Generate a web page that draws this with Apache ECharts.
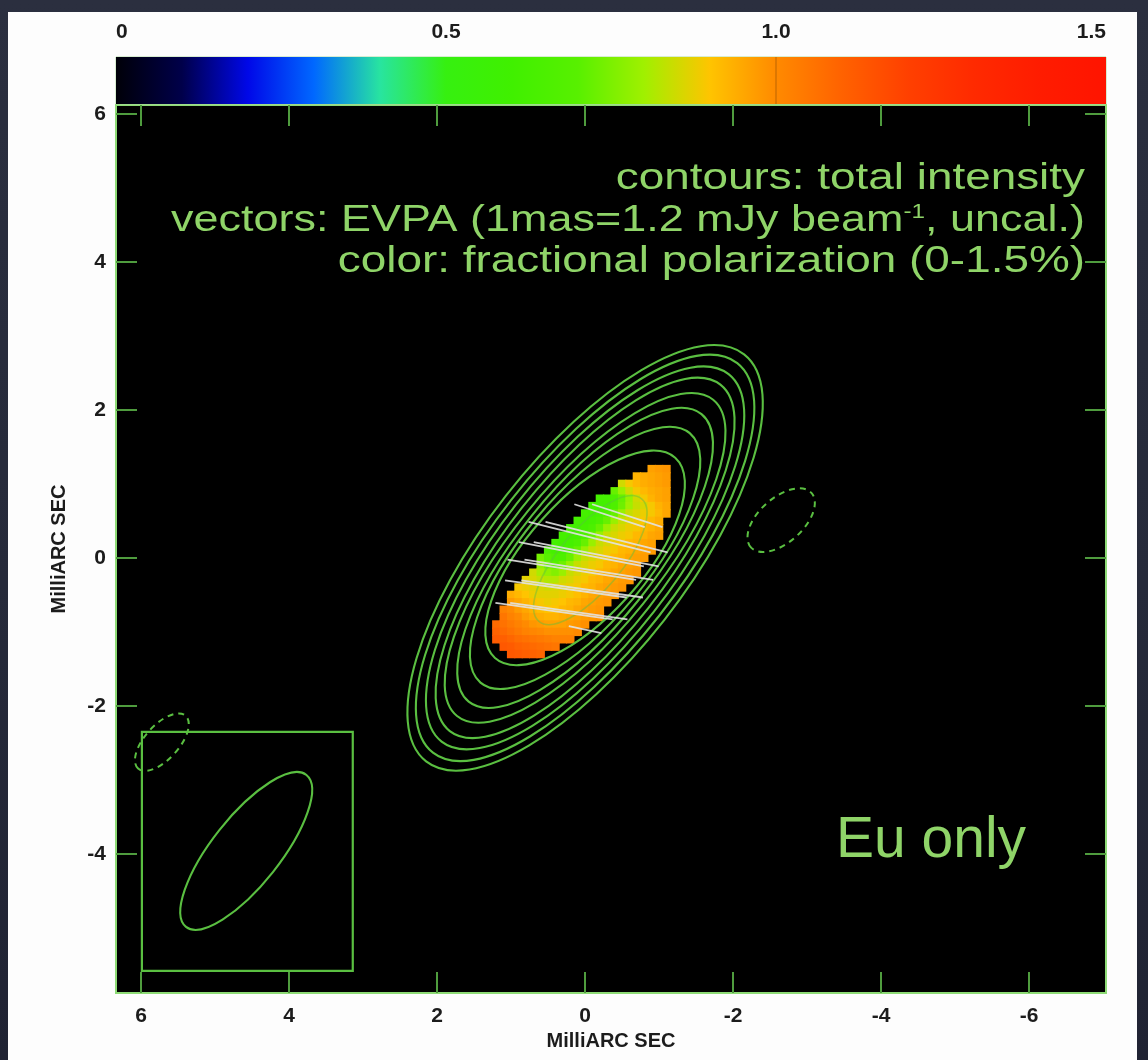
<!DOCTYPE html>
<html><head><meta charset="utf-8">
<script src="https://cdn.jsdelivr.net/npm/echarts@6/dist/echarts.min.js"></script>
<style>
html,body{margin:0;padding:0;width:1148px;height:1060px;overflow:hidden;
background:linear-gradient(180deg,#2b2f3f 0%,#262a3a 55%,#202333 100%);}
#panel{position:absolute;left:8px;top:12px;width:1129px;height:1060px;background:#fdfdfd;}
#chart{position:absolute;left:0;top:0;width:1148px;height:1060px;}
</style></head><body><div id="panel"></div><div id="chart"></div>
<script>
// ---------------- data ----------------
const xTicks = [6, 4, 2, 0, -2, -4, -6];
const yTicks = [6, 4, 2, 0, -2, -4];
const cbTicks = [0, 0.5, 1.0, 1.5];
const cbMarks = [1.0];
const xRange = [-7.04, 6.34];
const yRange = [-5.88, 6.12];
const cmapRange = [0, 1.5];
const colormap = ['#000008','#00004a','#0008e8','#0068ff','#28e4a0','#36f010','#40f000','#58f000',
                  '#a0f000','#ffc400','#ff8a00','#ff6200','#ff4000','#ff2a00','#ff1c00','#ff1400'];

// fractional polarization (%) read on a 0.1 mas grid: each row = y, first x, values going west (x decreasing)
const fieldStep = 0.1;
const fieldRowY  = [1.2, 1.1, 1.0, 0.9, 0.8, 0.7, 0.6, 0.5, 0.4, 0.3, 0.2, 0.1, 0.0, -0.1, -0.2, -0.3, -0.4, -0.5, -0.6, -0.7, -0.8, -0.9, -1.0, -1.1, -1.2, -1.3];
const fieldRowX0 = [-0.9, -0.7, -0.5, -0.4, -0.2, -0.1, 0.0, 0.1, 0.2, 0.3, 0.4, 0.5, 0.6, 0.6, 0.7, 0.8, 0.9, 1.0, 1.0, 1.1, 1.1, 1.2, 1.2, 1.2, 1.1, 1.0];
const fieldRows = [
 [0.96,0.97,0.98],
 [0.93,0.94,0.95,0.96,0.97],
 [0.85,0.89,0.92,0.94,0.95,0.96,0.97],
 [0.72,0.79,0.85,0.89,0.92,0.94,0.95,0.96],
 [0.62,0.62,0.65,0.72,0.79,0.85,0.89,0.93,0.95,0.96],
 [0.62,0.61,0.62,0.66,0.73,0.80,0.84,0.86,0.89,0.93,0.95],
 [0.62,0.61,0.62,0.65,0.72,0.79,0.84,0.86,0.88,0.89,0.92,0.95],
 [0.62,0.61,0.62,0.65,0.72,0.79,0.84,0.86,0.88,0.89,0.92,0.94],
 [0.62,0.61,0.62,0.65,0.72,0.79,0.84,0.86,0.88,0.89,0.92,0.93,0.95],
 [0.62,0.61,0.62,0.65,0.72,0.79,0.84,0.86,0.88,0.89,0.92,0.93,0.95,0.96],
 [0.62,0.61,0.62,0.65,0.72,0.79,0.84,0.86,0.88,0.89,0.92,0.93,0.95,0.96],
 [0.64,0.62,0.62,0.65,0.72,0.79,0.84,0.86,0.88,0.89,0.92,0.93,0.95,0.96,0.97],
 [0.74,0.70,0.66,0.66,0.72,0.79,0.84,0.86,0.88,0.89,0.92,0.93,0.95,0.96,0.97],
 [0.78,0.73,0.70,0.73,0.79,0.84,0.86,0.88,0.89,0.92,0.93,0.95,0.96,0.97],
 [0.85,0.81,0.78,0.76,0.79,0.84,0.86,0.88,0.89,0.92,0.93,0.95,0.96,0.97,0.98],
 [0.87,0.86,0.84,0.82,0.82,0.85,0.86,0.88,0.89,0.92,0.93,0.95,0.96,0.97,0.98],
 [0.89,0.88,0.87,0.86,0.85,0.86,0.87,0.88,0.89,0.92,0.93,0.95,0.96,0.97,0.98],
 [0.94,0.92,0.90,0.88,0.87,0.87,0.87,0.88,0.89,0.91,0.93,0.95,0.96,0.97,0.98],
 [0.97,0.95,0.93,0.91,0.89,0.88,0.89,0.90,0.92,0.93,0.95,0.96,0.97,0.98],
 [1.02,1.00,0.97,0.95,0.93,0.91,0.90,0.90,0.92,0.93,0.95,0.96,0.97,0.98],
 [1.05,1.02,1.00,0.97,0.95,0.94,0.93,0.93,0.94,0.95,0.96,0.97,0.98,0.99],
 [1.08,1.06,1.04,1.02,1.00,0.98,0.97,0.96,0.96,0.96,0.97,0.98,0.99],
 [1.10,1.08,1.06,1.04,1.02,1.01,1.00,0.99,0.99,0.99,0.99,1.00],
 [1.12,1.11,1.09,1.07,1.06,1.05,1.04,1.03,1.02,1.02,1.02],
 [1.13,1.12,1.10,1.09,1.08,1.07,1.06,1.05],
 [1.13,1.12,1.11,1.10,1.09]
];

// total intensity contours (mas): semi-major, semi-minor, position angle; common centre
const contourCX = 0.0, contourCY = 0.0;
const contourA  = [3.49, 3.34, 3.15, 2.97, 2.75, 2.50, 2.20, 1.82];
const contourB  = [1.36, 1.27, 1.18, 1.09, 1.00, 0.92, 0.85, 0.78];
const contourPA = [-38, -38, -38, -38, -39, -39, -40, -42];
const peakContour = [-0.07, -0.03, 1.08, 0.42, -40];   // cx, cy, a, b, PA

// negative (dashed) contours
const negX  = [-2.65, 5.72];
const negY  = [0.51, -2.49];
const negA  = [0.55, 0.48];
const negB  = [0.30, 0.23];
const negPA = [-48, -42];

// restoring beam and its box
const beam = [4.58, -3.96, 1.31, 0.46, -38.4];
const beamBox = [5.99, -2.35, 3.14, -5.58];

// EVPA vectors: centre x, centre y, length (mas), position angle (deg)
const vecX   = [-0.33, -0.57, -0.06, -0.29, 0.05, -0.15, 0.18, -0.05, 0.26, 0.04, 0.42, 0.22, 0.00];
const vecY   = [0.57, 0.57, 0.28, 0.28, 0.05, 0.05, -0.16, -0.16, -0.42, -0.42, -0.72, -0.72, -0.97];
const vecLen = [1.00, 1.00, 1.70, 1.70, 1.72, 1.72, 1.76, 1.76, 1.66, 1.66, 1.60, 1.60, 0.45];
const vecPA  = [72, 72, 76, 76, 79, 79, 81, 81, 82, 82, 82, 82, 78];

const annotLines = ['contours: total intensity',
                    'vectors: EVPA (1mas=1.2 mJy beam{sup|-1}, uncal.)',
                    'color: fractional polarization (0-1.5%)'];
const panelLabel = 'Eu only';
const axisTitle = 'MilliARC SEC';

// ---------------- styles ----------------
const FONT = "'Liberation Sans', Arial, Helvetica, sans-serif";
const LFONT = "'Liberation Sans Narrow', 'Liberation Sans', Arial, sans-serif";
const TXT = '#8fd468';
const FRAME = '#8edb76';
const TICK = '#4f9c3e';
const CONT = '#5abf41';

// ---------------- build ----------------
const fieldData = [];
fieldRows.forEach((row, i) => row.forEach((v, j) =>
  fieldData.push([+(fieldRowX0[i] - j * fieldStep).toFixed(2), fieldRowY[i], v])));

const contourData = contourA.map((a, i) => [contourCX, contourCY, a, contourB[i], contourPA[i]]);
const negData = negX.map((x, i) => [x, negY[i], negA[i], negB[i], negPA[i]]);
const vecData = vecX.map((x, i) => [x, vecY[i], vecLen[i], vecPA[i]]);

function ellipseEl(api, style) {
  const cx = api.value(0), cy = api.value(1), a = api.value(2), b = api.value(3);
  const r = api.value(4) * Math.PI / 180;
  const c = api.coord([cx, cy]);
  const pM = api.coord([cx + a * Math.sin(r), cy + a * Math.cos(r)]);
  const pm = api.coord([cx + b * Math.cos(r), cy - b * Math.sin(r)]);
  return {
    type: 'ellipse', x: c[0], y: c[1],
    rotation: Math.atan2(-(pM[1] - c[1]), pM[0] - c[0]),
    shape: { cx: 0, cy: 0, rx: Math.hypot(pM[0] - c[0], pM[1] - c[1]), ry: Math.hypot(pm[0] - c[0], pm[1] - c[1]) },
    style: style
  };
}

const mainAxes = { xAxisIndex: 0, yAxisIndex: 0, coordinateSystem: 'cartesian2d', silent: true, clip: true };
const tickStyle = { color: TICK, width: 2 };
const labelStyle = { color: '#1c1c1c', fontWeight: 'bold', fontSize: 21, fontFamily: LFONT };

const option = {
  animation: false,
  backgroundColor: 'transparent',
  grid: [
    { left: 116, top: 105, width: 990, height: 888, show: true, backgroundColor: '#000', borderColor: FRAME, borderWidth: 2 },
    { left: 116, top: 57, width: 990, height: 47, show: true, backgroundColor: '#000', borderColor: '#b2dca4', borderWidth: 1 }
  ],
  xAxis: [
    { gridIndex: 0, type: 'value', min: xRange[0], max: xRange[1], inverse: true, position: 'bottom',
      axisLine: { show: false, onZero: false }, splitLine: { show: false },
      axisTick: { show: true, inside: true, length: 21, customValues: xTicks, lineStyle: tickStyle },
      axisLabel: Object.assign({ show: true, customValues: xTicks, margin: 13 }, labelStyle),
      name: axisTitle, nameLocation: 'middle', nameGap: 36,
      nameTextStyle: { color: '#1c1c1c', fontWeight: 'bold', fontSize: 20, fontFamily: LFONT } },
    { gridIndex: 0, type: 'value', min: xRange[0], max: xRange[1], inverse: true, position: 'top',
      axisLine: { show: false, onZero: false }, splitLine: { show: false }, axisLabel: { show: false },
      axisTick: { show: true, inside: true, length: 21, customValues: xTicks, lineStyle: tickStyle } },
    { gridIndex: 1, type: 'value', min: cmapRange[0], max: cmapRange[1], position: 'top',
      axisLine: { show: false, onZero: false }, splitLine: { show: false }, axisTick: { show: false },
      axisLabel: Object.assign({ show: true, customValues: cbTicks, margin: 14,
        alignMinLabel: 'left', alignMaxLabel: 'right',
        formatter: v => (v === 0 ? '0' : v.toFixed(1)) }, labelStyle) }
  ],
  yAxis: [
    { gridIndex: 0, type: 'value', min: yRange[0], max: yRange[1], position: 'left',
      axisLine: { show: false, onZero: false }, splitLine: { show: false },
      axisTick: { show: true, inside: true, length: 21, customValues: yTicks, lineStyle: tickStyle },
      axisLabel: Object.assign({ show: true, customValues: yTicks, margin: 10 }, labelStyle),
      name: axisTitle, nameLocation: 'middle', nameGap: 47,
      nameTextStyle: { color: '#1c1c1c', fontWeight: 'bold', fontSize: 20, fontFamily: LFONT } },
    { gridIndex: 0, type: 'value', min: yRange[0], max: yRange[1], position: 'right',
      axisLine: { show: false, onZero: false }, splitLine: { show: false }, axisLabel: { show: false },
      axisTick: { show: true, inside: true, length: 21, customValues: yTicks, lineStyle: tickStyle } },
    { gridIndex: 1, type: 'value', min: 0, max: 1, show: false }
  ],
  visualMap: [{ type: 'continuous', show: false, min: cmapRange[0], max: cmapRange[1], dimension: 2, seriesIndex: 0,
    inRange: { color: colormap } }],
  series: [
    Object.assign({ type: 'custom', name: 'fractional polarization', data: fieldData, z: 2,
      renderItem: (p, api) => {
        const c = api.coord([api.value(0), api.value(1)]);
        const s = api.size([fieldStep, fieldStep]);
        return { type: 'rect', shape: { x: c[0] - s[0] / 2 - 0.5, y: c[1] - s[1] / 2 - 0.5, width: s[0] + 1, height: s[1] + 1 },
          style: { fill: api.visual('color') } };
      } }, mainAxes),
    Object.assign({ type: 'custom', name: 'peak contour', data: [peakContour], z: 3,
      renderItem: (p, api) => ellipseEl(api, { fill: 'none', stroke: CONT, lineWidth: 1.6, opacity: 0.45 }) }, mainAxes),
    Object.assign({ type: 'custom', name: 'contours', data: contourData, z: 3,
      renderItem: (p, api) => ellipseEl(api, { fill: 'none', stroke: CONT, lineWidth: 2.1 }) }, mainAxes),
    Object.assign({ type: 'custom', name: 'negative contours', data: negData, z: 3,
      renderItem: (p, api) => ellipseEl(api, { fill: 'none', stroke: CONT, lineWidth: 2, lineDash: [6, 5] }) }, mainAxes),
    Object.assign({ type: 'custom', name: 'beam box', data: [beamBox], z: 3,
      renderItem: (p, api) => {
        const p0 = api.coord([api.value(0), api.value(1)]);
        const p1 = api.coord([api.value(2), api.value(3)]);
        return { type: 'rect', shape: { x: p0[0], y: p0[1], width: p1[0] - p0[0], height: p1[1] - p0[1] },
          style: { fill: 'none', stroke: CONT, lineWidth: 2.2 } };
      } }, mainAxes),
    Object.assign({ type: 'custom', name: 'beam', data: [beam], z: 3,
      renderItem: (p, api) => ellipseEl(api, { fill: 'none', stroke: CONT, lineWidth: 2.1 }) }, mainAxes),
    Object.assign({ type: 'custom', name: 'EVPA', data: vecData, z: 4,
      renderItem: (p, api) => {
        const x = api.value(0), y = api.value(1), h = api.value(2) / 2, r = api.value(3) * Math.PI / 180;
        const a = api.coord([x + h * Math.sin(r), y + h * Math.cos(r)]);
        const b = api.coord([x - h * Math.sin(r), y - h * Math.cos(r)]);
        return { type: 'line', shape: { x1: a[0], y1: a[1], x2: b[0], y2: b[1] },
          style: { stroke: '#e2e2e2', lineWidth: 1.8, opacity: 0.9 } };
      } }, mainAxes),
    { type: 'custom', name: 'colour wedge', xAxisIndex: 2, yAxisIndex: 2, coordinateSystem: 'cartesian2d', silent: true,
      data: [[cmapRange[0], 0, cmapRange[1], 1]], z: 2,
      renderItem: (p, api) => {
        const p0 = api.coord([api.value(0), api.value(3)]);
        const p1 = api.coord([api.value(2), api.value(1)]);
        const stops = colormap.map((c, i) => ({ offset: i / (colormap.length - 1), color: c }));
        const children = [{ type: 'rect', shape: { x: p0[0], y: p0[1], width: p1[0] - p0[0], height: p1[1] - p0[1] },
          style: { fill: new echarts.graphic.LinearGradient(0, 0, 1, 0, stops) } }];
        cbMarks.forEach(t => {
          const q0 = api.coord([t, 0]), q1 = api.coord([t, 1]);
          children.push({ type: 'line', shape: { x1: q0[0], y1: q0[1], x2: q1[0], y2: q1[1] },
            style: { stroke: 'rgba(0,0,0,0.18)', lineWidth: 1.5 } });
        });
        return { type: 'group', children: children };
      } }
  ],
  graphic: [
    { type: 'text', x: 1085, y: 179, scaleX: 1.24, z: 100, style: { text: annotLines[0], fill: TXT, font: `37px ${FONT}`, align: 'right', verticalAlign: 'middle' } },
    { type: 'text', x: 1085, y: 221, scaleX: 1.215, z: 100, style: { text: annotLines[1], fill: TXT, font: `37px ${FONT}`, align: 'right', verticalAlign: 'middle',
      rich: { sup: { fontSize: 20, fontFamily: FONT, fill: TXT, verticalAlign: 'top', lineHeight: 37 } } } },
    { type: 'text', x: 1085, y: 262, scaleX: 1.24, z: 100, style: { text: annotLines[2], fill: TXT, font: `37px ${FONT}`, align: 'right', verticalAlign: 'middle' } },
    { type: 'text', x: 931, y: 841, z: 100, style: { text: panelLabel, fill: TXT, font: `57px ${FONT}`, align: 'center', verticalAlign: 'middle' } }
  ]
};

const chart = echarts.init(document.getElementById('chart'), null, { renderer: 'canvas' });
chart.setOption(option);
</script></body></html>
